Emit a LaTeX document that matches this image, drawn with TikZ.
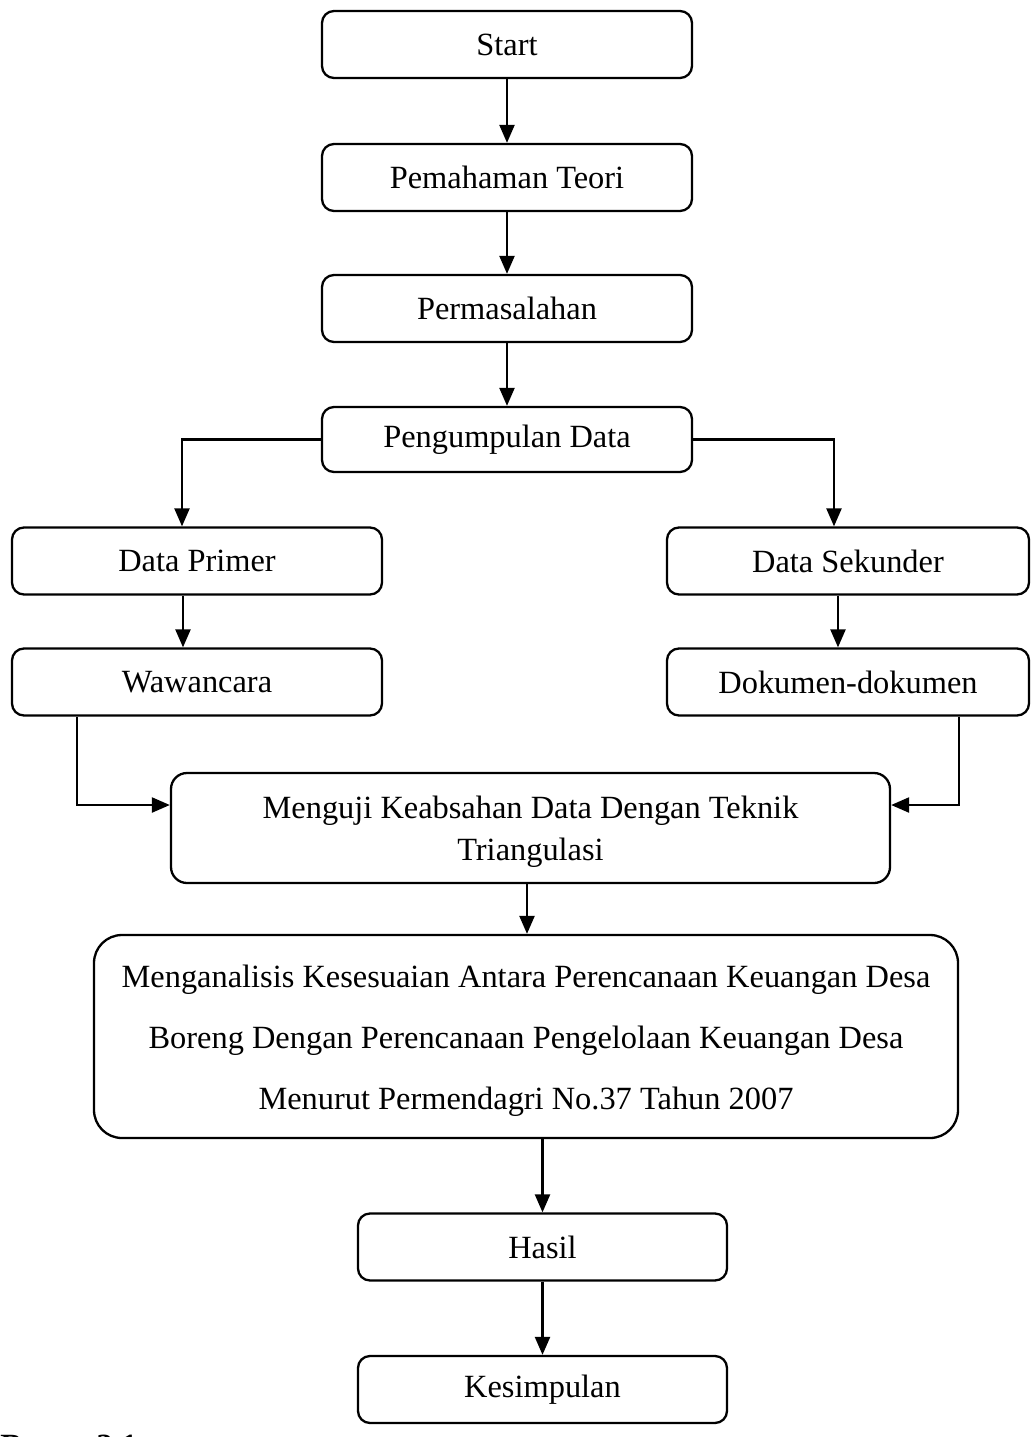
\documentclass[tikz,border=0pt]{standalone}
\usepackage{fontspec}
\setmainfont{Liberation Serif}
\usetikzlibrary{arrows.meta}
\begin{document}
\begin{tikzpicture}[x=0.5pt,y=-0.5pt,
  every node/.style={font=\fontsize{16.2pt}{21pt}\selectfont},
  box/.style={draw,line width=1.15pt,rounded corners=6pt,minimum width=185pt,minimum height=33.5pt,inner sep=0pt,align=center},
  bigbox/.style={box,rounded corners=14pt},
  txt/.style={inner sep=0pt,align=center},
  arr/.style={line width=1.15pt,-{Triangle[width=7.5pt,length=9pt]}}]
\useasboundingbox (0,0) rectangle (1031,1437);
\node[box] (start) at (507,44.5) {Start};
\node[box] (teori) at (507,177.5) {Pemahaman Teori};
\node[box] (masalah) at (507,308.5) {Permasalahan};
\node[box,minimum height=32.5pt] (kumpul) at (507,439.5) {Pengumpulan Data};
\node[box] (primer) at (197,561) {Data Primer};
\node[box,minimum width=181pt] (sekunder) at (848,561) {Data Sekunder};
\node[box] (wawancara) at (197,682) {Wawancara};
\node[box,minimum width=181pt] (dokumen) at (848,682) {Dokumen-dokumen};
\node[bigbox,minimum width=359.5pt,minimum height=55pt,rounded corners=8pt] (uji) at (530.5,828) {};
\node[txt] (ujitext) at (530.5,832) {Menguji Keabsahan Data Dengan Teknik\\Triangulasi};
\node[bigbox,minimum width=432pt,minimum height=101.5pt] (analisis) at (526,1036.5) {};
\node[txt,font=\fontsize{16.2pt}{30.5pt}\selectfont] (analisistext) at (526,1041)
  {Menganalisis Kesesuaian Antara Perencanaan Keuangan Desa\\Boreng Dengan Perencanaan Pengelolaan Keuangan Desa\\Menurut Permendagri No.37 Tahun 2007};
\node[box,minimum width=184.5pt] (hasil) at (542.5,1247) {Hasil};
\node[box,minimum width=184.5pt] (kesimpulan) at (542.5,1389.5) {Kesimpulan};
\begin{scope}
\clip (0,0) rectangle (1031,1437);
\node[anchor=base west,inner sep=0pt,font=\fontsize{16.2pt}{21pt}\selectfont\bfseries] (bagan) at (0,1456) {Bagan 3.1};
\end{scope}
\draw[arr] (start) -- (teori);
\draw[arr] (teori) -- (masalah);
\draw[arr] (masalah) -- (kumpul);
\draw[arr] (kumpul.west) -| ([xshift=-7.5pt]primer.north);
\draw[arr] (kumpul.east) -| ([xshift=-7pt]sekunder.north);
\draw[arr] ([xshift=-7pt]primer.south) -- ([xshift=-7pt]wawancara.north);
\draw[arr] ([xshift=-5pt]sekunder.south) -- ([xshift=-5pt]dokumen.north);
\draw[arr] ([xshift=-60pt]wawancara.south) |- ([yshift=11.5pt]uji.west);
\draw[arr] ([xshift=55.5pt]dokumen.south) |- ([yshift=11.5pt]uji.east);
\draw[arr] ([xshift=-1.75pt]uji.south) -- ([xshift=-1.75pt]uji.south |- analisis.north);
\draw[arr] (hasil.north |- analisis.south) -- (hasil.north);
\draw[arr] (hasil) -- (kesimpulan);
\end{tikzpicture}
\end{document}
